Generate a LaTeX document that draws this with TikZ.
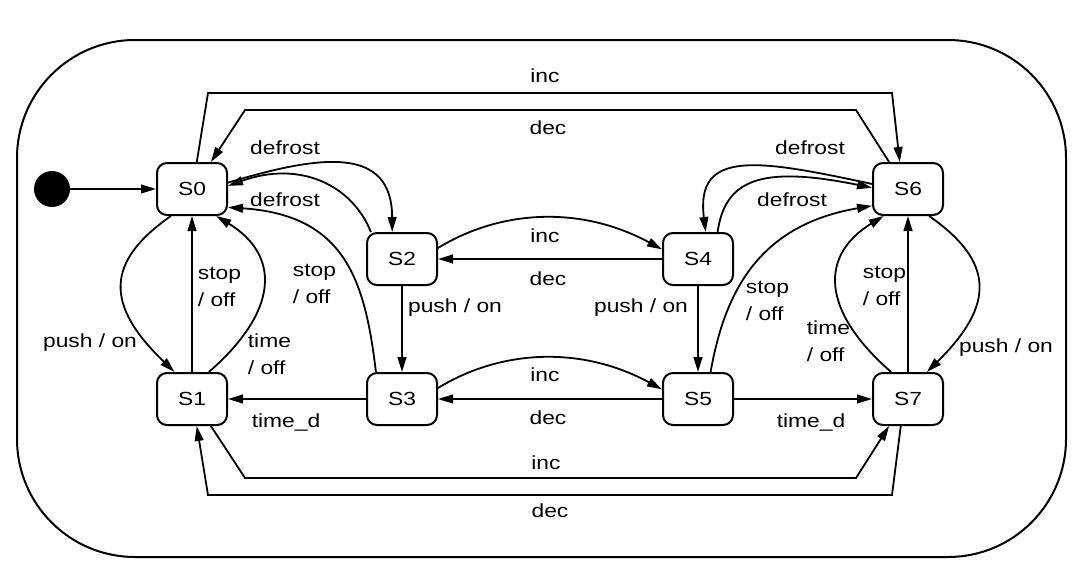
\documentclass[tikz,border=0pt]{standalone}
\usepackage{fontspec}
\setmainfont{Liberation Sans}[FakeStretch=1.2]
\usetikzlibrary{arrows.meta}
\begin{document}
\begin{tikzpicture}[x=0.5pt,y=-0.5pt,
    font=\fontsize{9.5}{13.5}\selectfont,
    state/.style={draw,line width=1pt,rounded corners=5pt,minimum width=35pt,minimum height=26pt,inner sep=0pt},
    tr/.style={-{Triangle[length=7.5pt,width=4.4pt]},line width=0.9pt},
    lbl/.style={inner sep=0pt,text height=7pt,text depth=2.1pt},
    lbl2/.style={inner sep=0pt,align=left,anchor=west}]
  \useasboundingbox (0,0) rectangle (1082,578);
  \draw[line width=1pt,rounded corners=59pt] (17,40) rectangle (1066,557);
  \node[circle,fill,inner sep=0pt,minimum size=18pt] (init) at (52,189) {};
  \node[state] (S0) at (192,189) {S0};
  \node[state] (S1) at (192,399) {S1};
  \node[state] (S2) at (402,259) {S2};
  \node[state] (S3) at (402,399) {S3};
  \node[state] (S4) at (698,259) {S4};
  \node[state] (S5) at (698,399) {S5};
  \node[state] (S6) at (908,189) {S6};
  \node[state] (S7) at (908,399) {S7};
  \draw[tr] (init) -- (S0);
  % outer inc / dec
  \draw[tr] (S0.80) -- (208,93) -- (892,93) -- (S6.107) node[lbl] at (545,78) {inc};
  \draw[tr] (S6.125) -- (856,110) -- (245,110) -- (S0.55) node[lbl] at (548,130) {dec};
  \draw[tr] (S1.305) -- (245,478) -- (856,478) -- (S7.235) node[lbl] at (546,465) {inc};
  \draw[tr] (S7.255) -- (892,495) -- (208,495) -- (S1.280) node[lbl] at (550,513) {dec};
  % left side
  \draw[tr] (S0.10) .. controls (320,155) and (392,145) .. (S2.110) node[lbl] at (285,150) {defrost};
  \draw[tr] (S2.139) .. controls (352,185) and (300,160) .. (S0.5) node[lbl] at (285,202) {defrost};
  \draw[tr] (S3.134) .. controls (365,280) and (345,215) .. (S0.333) node[lbl2] at (292,284) {stop\\/ off};
  \draw[tr] (S0.232) .. controls (105,262) and (105,305) .. (S1.123) node[lbl] at (90,343) {push / on};
  \draw[tr] (S1) -- (S0) node[lbl2] at (197,287) {stop\\/ off};
  \draw[tr] (S1.58) .. controls (280,310) and (280,255) .. (S0.312) node[lbl2] at (247,354) {time\\/ off};
  \draw[tr] (S2) -- (S3) node[lbl] at (455,308) {push / on};
  \draw[tr] (S3) -- (S1) node[lbl] at (286,423) {time\_d};
  % middle
  \draw[tr] (S2.17) .. controls (500,210) and (580,205) .. (S4.165) node[lbl] at (545,238) {inc};
  \draw[tr] (S4) -- (S2) node[lbl] at (548,281) {dec};
  \draw[tr] (S3.17) .. controls (500,350) and (580,345) .. (S5.165) node[lbl] at (545,377) {inc};
  \draw[tr] (S5) -- (S3) node[lbl] at (548,420) {dec};
  \draw[tr] (S4) -- (S5) node[lbl] at (641,308) {push / on};
  \draw[tr] (S5) -- (S7) node[lbl] at (811,423) {time\_d};
  % right side
  \draw[tr] (S6.172) .. controls (760,160) and (695,148) .. (S4.74) node[lbl] at (810,150) {defrost};
  \draw[tr] (S4.54) .. controls (725,180) and (760,165) .. (S6.178) node[lbl] at (792,202) {defrost};
  \draw[tr] (S5.65) .. controls (725,290) and (760,225) .. (S6.205) node[lbl2] at (745,301) {stop\\/ off};
  \draw[tr] (S7.122) .. controls (820,310) and (820,255) .. (S6.228) node[lbl2] at (806,341) {time\\/ off};
  \draw[tr] (S7) -- (S6) node[lbl2] at (862,286) {stop\\/ off};
  \draw[tr] (S6.308) .. controls (995,262) and (995,305) .. (S7.55) node[lbl] at (1006,348) {push / on};
\end{tikzpicture}
\end{document}
